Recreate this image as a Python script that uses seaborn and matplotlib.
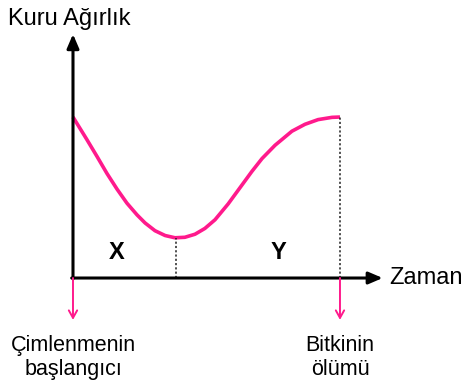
import matplotlib
matplotlib.use("Agg")
import matplotlib.pyplot as plt
import seaborn as sns
import pandas as pd

# ---- data (arbitrary units) ----
time = [0.0, 0.52, 0.90, 1.27, 1.65, 2.02, 2.40, 2.70, 3.07, 3.45, 3.82,
        4.19, 4.57, 4.94, 5.32, 5.81, 6.33, 6.70, 7.08, 7.57, 8.20, 8.69,
        9.18, 9.70, 10.0]
weight = [10.0, 8.60, 7.55, 6.50, 5.52, 4.65, 3.92, 3.42, 2.94, 2.64, 2.50,
          2.53, 2.72, 3.08, 3.62, 4.60, 5.78, 6.62, 7.42, 8.25, 9.12, 9.55,
          9.84, 9.98, 10.0]
min_time, min_weight = 3.86, 2.50
end_time, end_weight = 10.0, 10.0
start_time = 0.0

y_label = "Kuru Ağırlık"
x_label = "Zaman"
region_labels = ["X", "Y"]
region_pos = [1.65, 7.7]
event_labels = ["Çimlenmenin\nbaşlangıcı", "Bitkinin\nölümü"]
event_times = [start_time, end_time]

PINK = "#ff1a8c"

sns.set_theme(style="white")
plt.rcParams["font.family"] = ["Liberation Sans", "DejaVu Sans"]

fig = plt.figure(figsize=(4.66, 3.80), dpi=100)
ax = fig.add_axes([0, 0, 1, 1])
ax.set_xlim(-2.734, 14.72)
ax.set_ylim(-6.335, 17.27)
ax.axis("off")

df = pd.DataFrame({"t": time, "w": weight})
sns.lineplot(data=df, x="t", y="w", ax=ax, color=PINK, lw=2.6,
             sort=False, solid_capstyle="butt", solid_joinstyle="round")

# dotted guides
ax.plot([min_time, min_time], [0, min_weight], color="#222222", lw=1.1,
        ls=(0, (1.4, 1.4)))
ax.plot([end_time, end_time], [0, end_weight], color="#222222", lw=1.1,
        ls=(0, (1.4, 1.4)))

# main axes with arrows
ax.annotate("", xy=(11.6, 0), xytext=(-0.05, 0),
            arrowprops=dict(arrowstyle="-|>,head_length=0.7,head_width=0.3",
                            color="black", lw=2.2, shrinkA=0, shrinkB=0))
ax.annotate("", xy=(0, 15.15), xytext=(0, -0.05),
            arrowprops=dict(arrowstyle="-|>,head_length=0.7,head_width=0.3",
                            color="black", lw=2.2, shrinkA=0, shrinkB=0))

# pink event arrows
for t in event_times:
    ax.annotate("", xy=(t, -2.6), xytext=(t, 0),
                arrowprops=dict(arrowstyle="->,head_length=0.45,head_width=0.25",
                                color=PINK, lw=1.4, shrinkA=0, shrinkB=0))

ax.text(-2.45, 16.1, y_label, fontsize=17, ha="left", va="center", color="black")
ax.text(11.85, 0.0, x_label, fontsize=17, ha="left", va="center", color="black")

for lab, x in zip(region_labels, region_pos):
    ax.text(x, 1.6, lab, fontsize=17, fontweight="bold", ha="center",
            va="center", color="black")

for lab, t in zip(event_labels, event_times):
    ax.text(t, -4.95, lab, fontsize=15.5, ha="center", va="center",
            color="black", linespacing=1.2)

fig.savefig("out.png", dpi=100)
